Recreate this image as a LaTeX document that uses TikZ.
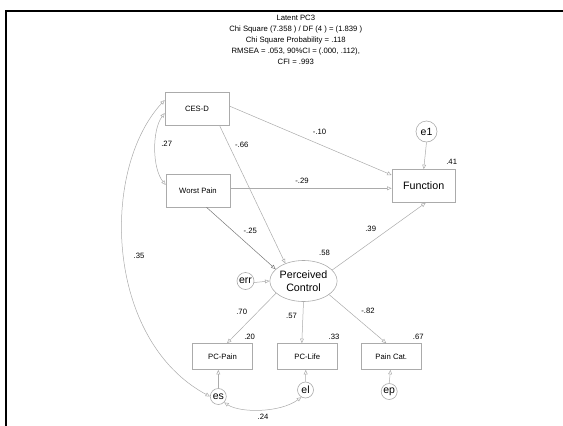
\documentclass[tikz,border=0pt]{standalone}
\usepackage{fontspec}
\setmainfont{Liberation Sans}
\usetikzlibrary{arrows.meta,shapes.geometric}
\definecolor{lgray}{HTML}{ABABAB}
\definecolor{dgray}{HTML}{787878}
\begin{document}
\begin{tikzpicture}[x=1pt,y=-1pt,
  >={Triangle[open,length=4.5pt,width=3.8pt]},
  sm/.style={font=\fontsize{7.7}{9}\selectfont, inner sep=0pt},
  obs/.style={draw=lgray, line width=0.6pt, inner sep=0pt, font=\fontsize{7.7}{9}\selectfont, minimum width=64pt, minimum height=33pt},
  ind/.style={draw=lgray, line width=0.6pt, inner sep=0pt, font=\fontsize{7.7}{9}\selectfont, minimum width=60pt, minimum height=26pt},
  errc/.style={circle, draw=lgray, line width=0.6pt, inner sep=0pt, font=\fontsize{10.5}{12}\selectfont},
  path/.style={draw=lgray, line width=0.5pt, ->},
  cov/.style={draw=lgray, line width=0.5pt, <->}]
\useasboundingbox (0,0) rectangle (563,426);
\draw[line width=2.2pt] (6.3,430) -- (6.3,11.2) -- (567,11.2);

\node[sm, align=center, font=\fontsize{7.7}{11}\selectfont] (title) at (295.8,39.7)
  {Latent PC3\\Chi Square (7.358 ) / DF (4 ) = (1.839 )\\Chi Square Probability = .118\\RMSEA = .053, 90\%CI = (.000, .112),\\CFI = .993};

\node[obs] (cesd) at (197,109) {CES-D};
\node[obs] (wp) at (198,190.5) {Worst Pain};
\node[obs, minimum width=63.5pt, font=\fontsize{10.7}{12}\selectfont] (func) at (423.7,186) {Function};
\node[ellipse, draw=lgray, line width=0.6pt, inner sep=0pt, minimum width=67pt, minimum height=41pt, align=center, font=\fontsize{10.7}{12.7}\selectfont] (lat) at (303.5,281) {Perceived\\Control};
\node[ind] (pcpain) at (222.5,356.5) {PC-Pain};
\node[ind] (pclife) at (307.3,356.5) {PC-Life};
\node[ind] (paincat) at (391.3,356.5) {Pain Cat.};

\node[errc, minimum size=21pt] (e1) at (426.5,131.5) {e1};
\node[errc, minimum size=17pt] (err) at (245.5,281) {err};
\node[errc, minimum size=16pt] (es) at (218.3,396.5) {es};
\node[errc, minimum size=16pt] (el) at (305.5,390) {el};
\node[errc, minimum size=16pt] (ep) at (389.2,391.5) {ep};

% structural paths
\draw[path] ([yshift=3pt]cesd.east) -- ([yshift=11pt]func.west);
\draw[path] ([yshift=2.2pt]wp.east) -- ([yshift=-2.3pt]func.west);
\draw[path] ([xshift=22.7pt]cesd.south) -- (lat.136);
\draw[path, draw=dgray] ([xshift=8.5pt]wp.south) -- (lat.157);
\draw[path] (lat.21) -- ([xshift=2pt]func.south);
\draw[path] (lat.204) -- ([xshift=4.5pt]pcpain.north);
\draw[path] (lat.south) -- ([xshift=-5.5pt]pclife.north);
\draw[path] (lat.332) -- ([xshift=-5pt]paincat.north);
\draw[path] (e1.south) -- (func.north);
\draw[path] (err.-10) -- (lat.west);
\draw[path] (es.north) -- ([xshift=-4.2pt]pcpain.south);
\draw[path] (el.north) -- ([xshift=-1.5pt]pclife.south);
\draw[path] (ep.north) -- ([xshift=-0.8pt]paincat.south);

% covariances
\draw[cov] ([yshift=-4pt]cesd.west) .. controls (152,130) and (152,168) .. ([yshift=5.5pt]wp.west);
\draw[cov] ([yshift=9pt]cesd.west) .. controls (100,170) and (105,340) .. (es.west);
\draw[cov] (es.-45) .. controls (240,413) and (280,413) .. (el.240);

% labels
\node[sm] (l27) at (166.7,144) {.27};
\node[sm] (l66) at (241.7,145.3) {-.66};
\node[sm] (l10) at (319.6,132.3) {-.10};
\node[sm] (l29) at (302,180.8) {-.29};
\node[sm] (l41) at (451.7,161.7) {.41};
\node[sm] (l25) at (250.2,231.3) {-.25};
\node[sm] (l39) at (370.7,229.3) {.39};
\node[sm] (l58) at (324.5,253.3) {.58};
\node[sm] (l35) at (139,255.7) {.35};
\node[sm] (l70) at (241.7,311.7) {.70};
\node[sm] (l57) at (291.6,316) {.57};
\node[sm] (l82) at (368,310.7) {-.82};
\node[sm] (l20) at (249.6,337.2) {.20};
\node[sm] (l33) at (334,337.2) {.33};
\node[sm] (l67) at (418.3,336.7) {.67};
\node[sm] (l24) at (263,416.7) {.24};
\end{tikzpicture}
\end{document}
